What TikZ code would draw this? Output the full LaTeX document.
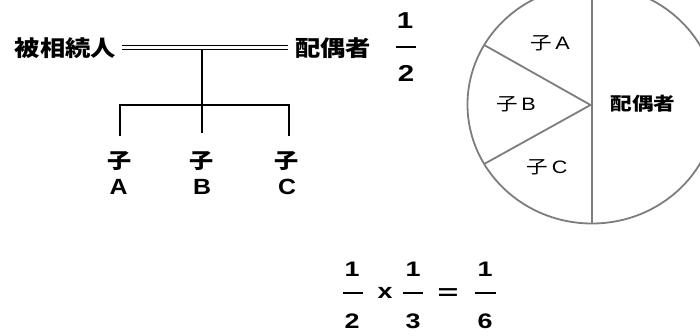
\documentclass[tikz,border=0pt]{standalone}
\usepackage{fontspec}
\usepackage{graphicx}
\usetikzlibrary{calc}
\setmainfont{Liberation Sans}
\newfontfamily\jp{Noto Sans CJK JP}
\newcommand{\widen}[2][1.28]{\scalebox{#1}[1]{#2}}
\begin{document}
\begin{tikzpicture}[x=1pt,y=-1pt,
  lbl/.style={inner sep=0pt, font=\fontsize{22}{23}\selectfont\jp\bfseries},
  kid/.style={inner sep=0pt, font=\fontsize{21}{22}\selectfont\jp\bfseries},
  letter/.style={inner sep=0pt, font=\fontsize{22}{23}\selectfont\bfseries},
  pietxt/.style={inner sep=0pt, font=\fontsize{18}{19}\selectfont},
  num/.style={inner sep=0pt, font=\fontsize{21}{22}\selectfont\bfseries},
  tree/.style={line width=1.4pt, black},
  fbar/.style={line width=2.2pt, black},
  pie/.style={line width=1.8pt, draw={rgb,255:red,125;green,125;blue,125}}]
\useasboundingbox (0,0) rectangle (700,336);
\clip (0,0) rectangle (700,336);
% family tree
\node[lbl] (dec) at (65.5,48) {\widen[1.15]{被相続人}};
\node[lbl] (sp) at (333,48) {\widen[1.15]{配偶者}};
\coordinate (dl1) at (122,45.6);
\coordinate (dr1) at (288,45.6);
\coordinate (dl2) at (122,49.8);
\coordinate (dr2) at (288,49.8);
\draw[tree, line width=1.2pt] (dl1) -- (dr1);
\draw[tree, line width=1.2pt] (dl2) -- (dr2);
\coordinate (j) at (202,49.8);
\coordinate (eA) at (120,136);
\coordinate (eB) at (202,133);
\coordinate (eC) at (289,136);
\draw[tree] (j) -- (eB);
\draw[tree] (eA) -- (eA |- 0,105) -- (eC |- 0,105) -- (eC);
\node[kid] (kA) at (119.5,161) {\widen[1.15]{子}};
\node[kid] (kB) at (202,161) {\widen[1.15]{子}};
\node[kid] (kC) at (287,161) {\widen[1.15]{子}};
\node[letter] (lA) at (118.5,187) {\widen[1.13]{A}};
\node[letter] (lB) at (202,187) {\widen[1.13]{B}};
\node[letter] (lC) at (287,187) {\widen[1.13]{C}};
% fraction 1/2 near spouse
\node[num, font=\fontsize{23}{24}\selectfont\bfseries] (n1) at (405,21) {\widen{1}};
\coordinate (b1l) at (396,46.7);
\coordinate (b1r) at (416,46.7);
\draw[fbar] (b1l) -- (b1r);
\node[num, font=\fontsize{23}{24}\selectfont\bfseries] (d1) at (406,73) {\widen{2}};
% pie
\coordinate (C) at (592,104.5);
\draw[pie] (C) ellipse [x radius=124.5pt, y radius=119pt];
\coordinate (ctop) at (592.3,-20);
\coordinate (cbot) at (592.3,223.5);
\draw[pie] (ctop) -- (cbot);
\coordinate (tip) at (590.5,105);
\coordinate (pu) at ($(C)+(150:124.5pt and 119pt)$);
\coordinate (pd) at ($(C)+(210:124.5pt and 119pt)$);
\draw[pie] (pu) -- (tip) -- (pd);
\node[pietxt] (pA) at (550,43) {\widen[1.2]{{\jp 子}\,A}};
\node[pietxt] (pB) at (516,104) {\widen[1.2]{{\jp 子}\,B}};
\node[pietxt] (pC) at (547,167) {\widen[1.2]{{\jp 子}\,C}};
\node[pietxt] (pS) at (643,104) {\widen[1.2]{\jp\bfseries 配偶者}};
% formula
\node[num] (f1n) at (352,269) {\widen{1}};
\coordinate (f1l) at (343,293.3);
\coordinate (f1r) at (363,293.3);
\draw[fbar] (f1l) -- (f1r);
\node[num] (f1d) at (352,321) {\widen{2}};
\node[num] (times) at (385,293) {\widen{x}};
\node[num] (f2n) at (413,269) {\widen{1}};
\coordinate (f2l) at (403,293.3);
\coordinate (f2r) at (423,293.3);
\draw[fbar] (f2l) -- (f2r);
\node[num] (f2d) at (413,321) {\widen{3}};
\node[num] (eq) at (448,294.5) {\widen[1.7]{=}};
\node[num] (f3n) at (485,269) {\widen{1}};
\coordinate (f3l) at (475,293.3);
\coordinate (f3r) at (496,293.3);
\draw[fbar] (f3l) -- (f3r);
\node[num] (f3d) at (485,321) {\widen{6}};
\end{tikzpicture}
\end{document}
